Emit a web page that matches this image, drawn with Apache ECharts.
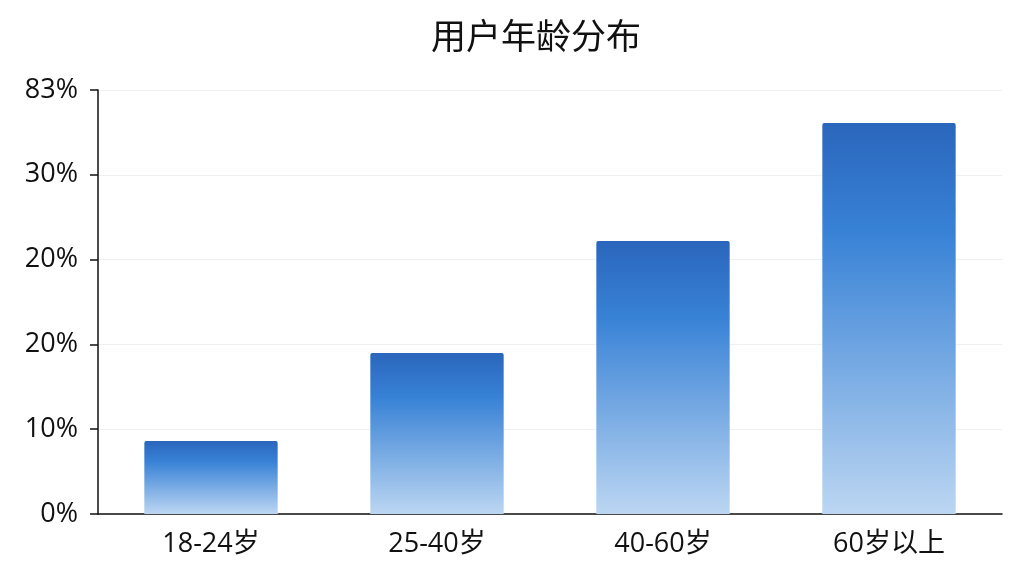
<!DOCTYPE html>
<html><head><meta charset="utf-8">
<script src="https://cdn.jsdelivr.net/npm/echarts@6/dist/echarts.min.js"></script>
<style>html,body{margin:0;padding:0;background:#fff}#c{width:1024px;height:576px}</style>
</head><body><div id="c"></div>
<script>
const categories = ['18-24岁', '25-40岁', '40-60岁', '60岁以上'];
const shares = [8.6, 19.0, 32.2, 46.1];
const tickLabels = ['0%', '10%', '20%', '20%', '30%', '83%'];

const chart = echarts.init(document.getElementById('c'));
const font = '"Open Sans", "Noto Sans CJK SC", sans-serif';
chart.setOption({
  backgroundColor: '#fff',
  title: {
    text: '用户年龄分布', left: 426, top: 13,
    textStyle: { fontFamily: '"Noto Sans CJK SC", sans-serif', fontSize: 35, fontWeight: 'normal', color: '#111' }
  },
  grid: { left: 98, right: 22, top: 90, bottom: 62 },
  xAxis: {
    type: 'category', data: categories,
    axisLine: { lineStyle: { color: '#111', width: 1.5 } },
    axisTick: { alignWithLabel: true, length: 7, lineStyle: { color: '#111', width: 1.5 } },
    axisLabel: { fontFamily: font, fontSize: 27, color: '#111', margin: 17 }
  },
  yAxis: {
    type: 'value', min: 0, max: 50, interval: 10,
    axisLine: { show: true, lineStyle: { color: '#111', width: 1.5 } },
    axisTick: { show: true, length: 8, lineStyle: { color: '#111', width: 1.5 } },
    axisLabel: {
      fontFamily: font, fontSize: 27, color: '#111', margin: 20,
      formatter: (v) => tickLabels[Math.round(v / 10)]
    },
    splitLine: { lineStyle: { color: '#f0f0f0', width: 1 } }
  },
  series: [{
    type: 'bar', data: shares, barWidth: '59%',
    itemStyle: {
      borderRadius: [2, 2, 0, 0],
      color: new echarts.graphic.LinearGradient(0, 0, 0, 1, [
        { offset: 0, color: '#2a66bc' },
        { offset: 0.28, color: '#3882d6' },
        { offset: 1, color: '#bcd6f2' }
      ])
    }
  }]
});
</script></body></html>
